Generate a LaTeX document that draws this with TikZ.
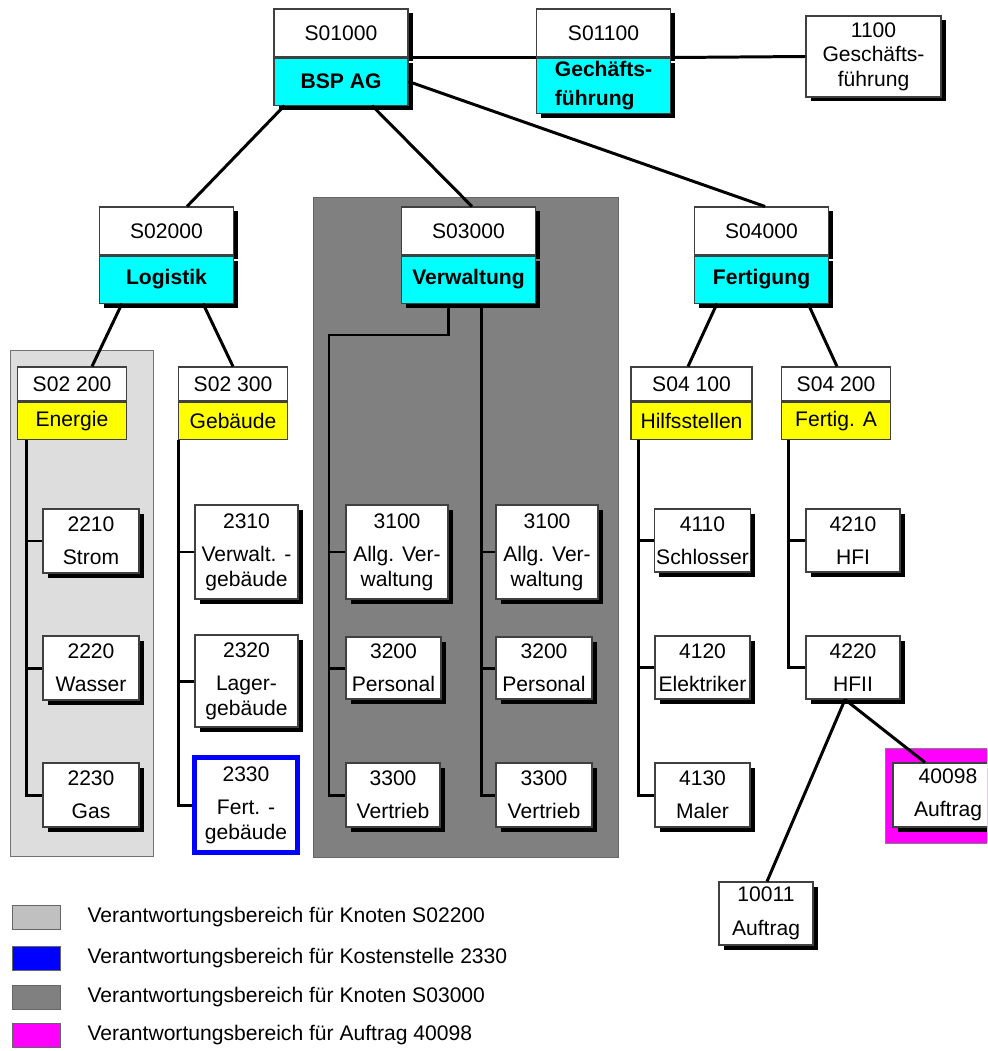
\documentclass[tikz,border=0pt]{standalone}
\usepackage{fontspec}
\setmainfont{Liberation Sans}
\usepackage{tikz}
\usetikzlibrary{positioning,shadows}
\definecolor{tuerkis}{RGB}{0,255,255}
\definecolor{gelb}{RGB}{255,255,0}
\definecolor{hellgrau}{RGB}{221,221,221}
\definecolor{dunkelgrau}{RGB}{128,128,128}
\definecolor{legendgrau}{RGB}{192,192,192}
\definecolor{pink}{RGB}{255,0,255}

\begin{document}
\begin{tikzpicture}[x=0.2mm,y=-0.2mm,font=\fontsize{12}{14}\selectfont]
\tikzstyle{rahmen}=[rectangle,draw=black!75,line width=0.6pt,inner sep=1pt,align=center]
\tikzstyle{schatten}=[drop shadow={fill=black,opacity=1,shadow xshift=0.9mm,shadow yshift=-0.9mm}]
\tikzstyle{kopf}=[rahmen,schatten,fill=white,minimum width=26.8mm,minimum height=9.6mm]
\tikzstyle{teil}=[rahmen,schatten,fill=tuerkis,font=\fontsize{12}{14}\selectfont\bfseries,
minimum width=26.8mm,minimum height=9.4mm]
\tikzstyle{knoten}=[rahmen,fill=white,minimum width=21.8mm,minimum height=6.8mm]
\tikzstyle{bereich}=[rahmen,fill=gelb,minimum width=21.8mm,minimum height=7.4mm]
\tikzstyle{blatt}=[rahmen,schatten,fill=white,minimum width=19.2mm,minimum height=12.8mm]
\tikzstyle{linie}=[line width=1.7pt]
\tikzstyle{legende}=[rectangle,draw=black!60,minimum width=9.6mm,minimum height=4.8mm]

\useasboundingbox (0,0) rectangle (987,1051);
\clip (0,0) rectangle (987,1051);

% Verantwortungsbereiche
\filldraw[fill=hellgrau,draw=black!55] (10,350) rectangle (153,856);
\filldraw[fill=dunkelgrau,draw=black!60] (313,197) rectangle (618,857);
\filldraw[fill=pink,draw=black!50] (885,748) rectangle (1000,843);

% oberste Ebene
\node[kopf] (s01000) at (341,33) {S01000};
\node[teil,below=0pt of s01000] (s01000u) {BSP AG};
\node[kopf] (s01100) at (603.5,33) {S01100};
\node[teil,below=0pt of s01100,minimum height=11mm,align=left] (s01100u) {Gechäfts-\\[2pt]führung};
\node[blatt,minimum width=27mm,minimum height=16.2mm] (k1100) at (873.5,56.5) {1100\\Geschäfts-\\führung};

% zweite Ebene
\node[kopf] (s02000) at (166.5,231) {S02000};
\node[teil,below=0pt of s02000] (s02000u) {Logistik};
\node[kopf] (s03000) at (468.5,231) {S03000};
\node[teil,below=0pt of s03000] (s03000u) {Verwaltung};
\node[kopf] (s04000) at (761.5,231) {S04000};
\node[teil,below=0pt of s04000] (s04000u) {Fertigung};

% dritte Ebene
\node[knoten] (s02200) at (72,384) {S02 200};
\node[bereich,below=0pt of s02200] (s02200u) {Energie};
\node[knoten] (s02300) at (233,384) {S02 300};
\node[bereich,below=0pt of s02300] (s02300u) {Gebäude};
\node[knoten,minimum width=24.2mm] (s04100) at (691.5,384) {S04 100};
\node[bereich,below=0pt of s04100,minimum width=24.2mm] (s04100u) {Hilfsstellen};
\node[knoten] (s04200) at (836,384) {S04 200};
\node[bereich,below=0pt of s04200] (s04200u) {Fertig. A};

% Kostenstellen
\node[blatt] (k2210) at (91,541) {2210\\[5pt]Strom};
\node[blatt] (k2220) at (91,668) {2220\\[5pt]Wasser};
\node[blatt] (k2230) at (91,795) {2230\\[5pt]Gas};
\node[blatt,minimum width=20.6mm,minimum height=18.8mm] (k2310) at (246.5,552) {2310\\[5pt]Verwalt. -\\gebäude};
\node[blatt,minimum width=20.6mm,minimum height=18.4mm] (k2320) at (246.5,681) {2320\\[5pt]Lager-\\gebäude};
\node[rahmen,fill=white,draw=blue,line width=1mm,minimum width=20.6mm,minimum height=19mm] (k2330) at (246,805) {2330\\[5pt]Fert. -\\gebäude};

\node[blatt,minimum width=20.4mm,minimum height=18.8mm] (k3100a) at (397,552) {3100\\[5pt]Allg. Ver-\\waltung};
\node[blatt,minimum width=20.4mm,minimum height=18.8mm] (k3100b) at (547,552) {3100\\[5pt]Allg. Ver-\\waltung};
\node[blatt,minimum width=19mm,minimum height=12.4mm] (k3200a) at (393.5,668) {3200\\[5pt]Personal};
\node[blatt,minimum width=19.2mm,minimum height=12.4mm] (k3200b) at (544,668) {3200\\[5pt]Personal};
\node[blatt,minimum width=18.8mm] (k3300a) at (393,795) {3300\\[5pt]Vertrieb};
\node[blatt] (k3300b) at (544,795) {3300\\[5pt]Vertrieb};

\node[blatt,minimum width=19mm,minimum height=12.6mm] (k4110) at (702.5,540.5) {4110\\[5pt]Schlosser};
\node[blatt,minimum width=19mm,minimum height=12.6mm] (k4120) at (702.5,667.5) {4120\\[5pt]Elektriker};
\node[blatt,minimum width=19mm] (k4130) at (702.5,795) {4130\\[5pt]Maler};
\node[blatt,minimum width=18.8mm,minimum height=12.6mm] (k4210) at (853,540.5) {4210\\[5pt]HFI};
\node[blatt,minimum width=18.8mm,minimum height=12.6mm] (k4220) at (853,667.5) {4220\\[5pt]HFII};

% Aufträge
\node[blatt,minimum width=18.8mm,minimum height=12.6mm] (k10011) at (766,913.5) {10011\\[5pt]Auftrag};
\node[blatt,minimum width=22mm] (k40098) at (948,795) {40098\\[5pt]Auftrag};

% Verbindungen
\draw[linie] (s01000.south east) -- (s01100.south west);
\draw[linie] (s01100.south east) -- (k1100.west);
\draw[linie] ([xshift=2.2mm]s01000u.south west) -- ([xshift=4.1mm]s02000.north);
\draw[linie] ([xshift=6.2mm]s01000u.south) -- ([xshift=0.7mm]s03000.north);
\draw[linie] (s01000u.east) -- ([xshift=0.7mm]s04000.north);
\draw[linie] ([xshift=-8.9mm]s02000u.south) -- ([xshift=4mm]s02200.north);
\draw[linie] ([xshift=7.3mm]s02000u.south) -- (s02300.north);
\draw[linie] ([xshift=-8.9mm]s04000u.south) -- ([xshift=-0.7mm]s04100.north);
\draw[linie] ([xshift=9.3mm]s04000u.south) -- ([xshift=0.2mm]s04200.north);

\coordinate (ve) at ([xshift=2mm]s02200u.south west);
\draw[linie] (ve) |- (k2230.west);
\draw[linie] (k2210.west) -- (k2210.west -| ve);
\draw[linie] (k2220.west) -- (k2220.west -| ve);

\coordinate (vg) at ([xshift=0.2mm]s02300u.south west);
\draw[linie] (vg) |- (k2330.west);
\draw[linie] (k2310.west) -- (k2310.west -| vg);
\draw[linie] (k2320.west) -- (k2320.west -| vg);

\coordinate (vl) at ([xshift=-4.1mm]s03000u.south);
\coordinate (vlk) at (329,335);
\draw[linie] (vl) |- (vlk) |- (k3300a.west);
\draw[linie] (k3100a.west) -- (k3100a.west -| vlk);
\draw[linie] (k3200a.west) -- (k3200a.west -| vlk);

\coordinate (vr) at ([xshift=2.5mm]s03000u.south);
\draw[linie] (vr) |- (k3300b.west);
\draw[linie] (k3100b.west) -- (k3100b.west -| vr);
\draw[linie] (k3200b.west) -- (k3200b.west -| vr);

\coordinate (vh) at ([xshift=1.6mm]s04100u.south west);
\draw[linie] (vh) |- (k4130.west);
\draw[linie] (k4110.west) -- (k4110.west -| vh);
\draw[linie] (k4120.west) -- (k4120.west -| vh);

\coordinate (vf) at ([xshift=1.6mm]s04200u.south west);
\draw[linie] (vf) |- (k4220.west);
\draw[linie] (k4210.west) -- (k4210.west -| vf);

\draw[linie] ([xshift=-1.6mm]k4220.south) -- ([xshift=0.2mm]k10011.north);
\draw[linie] ([xshift=-1.6mm]k4220.south) -- ([xshift=-4.6mm]k40098.north);

% Legende
\node[legende,fill=legendgrau] (l1) at (36,917.5) {};
\node[legende,fill=blue] (l2) at (36,958) {};
\node[legende,fill=dunkelgrau] (l3) at (36,997) {};
\node[legende,fill=pink] (l4) at (36,1035.5) {};
\node[right=4.2mm of l1] (t1) {Verantwortungsbereich für Knoten S02200};
\node[right=4.2mm of l2] (t2) {Verantwortungsbereich für Kostenstelle 2330};
\node[right=4.2mm of l3] (t3) {Verantwortungsbereich für Knoten S03000};
\node[right=4.2mm of l4] (t4) {Verantwortungsbereich für Auftrag 40098};
\end{tikzpicture}
\end{document}
